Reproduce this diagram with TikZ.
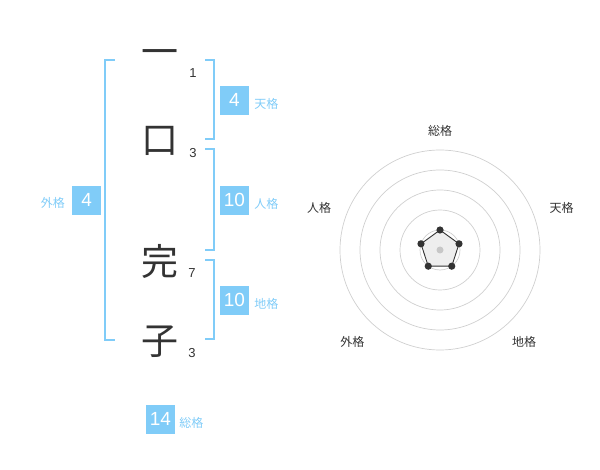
\documentclass[tikz,border=0pt]{standalone}
\usepackage{fontspec}
\setmainfont{Liberation Sans}
\newfontfamily\cjk{Noto Sans CJK JP}
\usepackage{xcolor}
\usetikzlibrary{positioning}
\definecolor{kakublue}{HTML}{80CCF8}
\definecolor{inkgray}{HTML}{333333}
\definecolor{ringgray}{HTML}{CFCFCF}
\definecolor{ringfill}{HTML}{EEEEEE}

\begin{document}
\begin{tikzpicture}[x=1pt,y=-1pt,
  kanji/.style={font=\cjk\fontsize{37}{37}\selectfont,text=inkgray,inner sep=0pt},
  strokes/.style={font=\fontsize{13}{13}\selectfont,text=inkgray,inner sep=0pt},
  kakubox/.style={fill=kakublue,text=white,minimum size=29pt,inner sep=0pt,font=\fontsize{19}{19}\selectfont},
  kakulabel/.style={font=\cjk\fontsize{12}{12}\selectfont,text=kakublue,inner sep=0pt},
  axislabel/.style={font=\cjk\fontsize{12}{12}\selectfont,text=inkgray,inner sep=0pt},
  bracket/.style={draw=kakublue,line width=1.6pt}]
\useasboundingbox (0,0) rectangle (600,470);
% name column
\node[kanji] (k1) at (160,58) {一};
\node[kanji] (k2) at (160,141) {口};
\node[kanji] (k3) at (160,261) {完};
\node[kanji] (k4) at (160,342) {子};
\node[strokes] (s1) at (193,73) {1};
\node[strokes] (s2) at (193,153) {3};
\node[strokes] (s3) at (192,273) {7};
\node[strokes] (s4) at (192,353) {3};
% brackets
\draw[bracket] (115,60) -- (105,60) -- (105,340) -- (115,340);
\draw[bracket] (205,60) -- (214,60) -- (214,139) -- (205,139);
\draw[bracket] (205,149) -- (214,149) -- (214,250) -- (205,250);
\draw[bracket] (205,260) -- (214,260) -- (214,339) -- (205,339);
% kaku boxes
\node[kakubox] (ten) at (234.5,100.3) {4};
\node[kakulabel,right=5pt of ten,yshift=-4pt] (tenl) {天格};
\node[kakubox] (jin) at (234.5,200.3) {10};
\node[kakulabel,right=5pt of jin,yshift=-4pt] (jinl) {人格};
\node[kakubox] (chi) at (234.5,300.3) {10};
\node[kakulabel,right=5pt of chi,yshift=-4pt] (chil) {地格};
\node[kakubox] (gai) at (86.7,200.3) {4};
\node[kakulabel,left=7pt of gai,yshift=-3pt] (gail) {外格};
\node[kakubox] (sou) at (160.5,419.3) {14};
\node[kakulabel,right=4pt of sou,yshift=-3.5pt] (soul) {総格};
% radar chart
\coordinate (c) at (440,250);
\foreach \r in {20,40,60,80,100}
  \draw[ringgray,line width=0.7pt] (c) circle[radius=\r pt];
\foreach \a [count=\i] in {90,18,-54,-126,-198}
  \coordinate (p\i) at ([shift={(\a:20pt)}]c);
\draw[inkgray,fill=ringfill,line width=0.9pt] (p1) -- (p2) -- (p3) -- (p4) -- (p5) -- cycle;
\fill[ringgray!90!gray] (c) circle[radius=3.5pt];
\foreach \i in {1,...,5}
  \fill[inkgray] (p\i) circle[radius=3.6pt];
\node[axislabel] (asou) at (440,130.7) {総格};
\node[axislabel] (aten) at (561.7,208.3) {天格};
\node[axislabel] (achi) at (524,341.7) {地格};
\node[axislabel] (agai) at (352.3,341.7) {外格};
\node[axislabel] (ajin) at (319,208.3) {人格};
\end{tikzpicture}
\end{document}
